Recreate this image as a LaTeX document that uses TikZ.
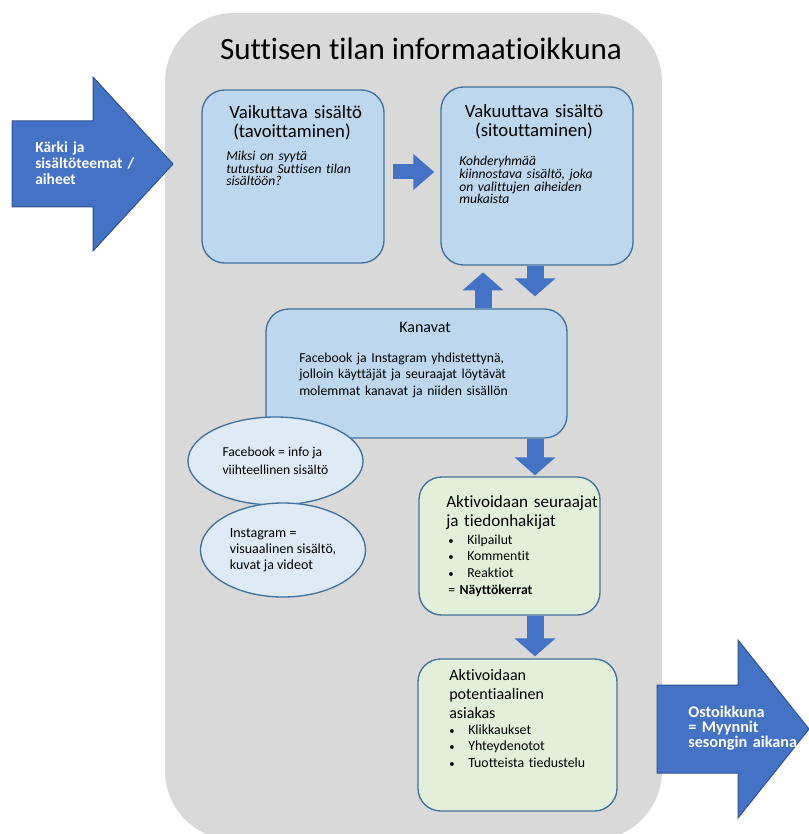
\documentclass[tikz,border=0pt]{standalone}
\usepackage{fontspec}
\setmainfont{Carlito}[Ligatures=NoCommon]
\usetikzlibrary{arrows.meta, shapes.geometric}

\definecolor{bggray}{HTML}{D9D9D9}
\definecolor{boxblue}{HTML}{BDD7EE}
\definecolor{boxline}{HTML}{41719C}
\definecolor{ovalblue}{HTML}{DEEBF7}
\definecolor{boxgreen}{HTML}{E2F0D9}
\definecolor{arrowblue}{HTML}{4472C4}
\definecolor{arrowline}{HTML}{2F528F}

\newcommand{\itembullet}{\makebox[14.25pt][l]{\fontsize{8}{8}\selectfont\textbullet}}

\tikzset{
  roundbox/.style={draw=boxline, line width=1pt, rounded corners=17pt, inner sep=0pt},
  bluebox/.style={roundbox, fill=boxblue},
  greenbox/.style={roundbox, fill=boxgreen},
  ovalnode/.style={ellipse, draw=boxline, line width=1pt, fill=ovalblue,
    inner sep=0pt, align=left},
  flowarrow/.style={draw=arrowblue, line width=12.75pt,
    -{Triangle[width=30pt, length=13.5pt]}},
  sideflow/.style={draw=arrowblue, line width=11.25pt,
    -{Triangle[width=26pt, length=15.75pt]}},
  bigarrow/.style={fill=arrowblue, draw=arrowline, line width=0.75pt},
  boxtext/.style={inner sep=0pt, anchor=base west, align=left, text width=170pt},
  arrowtext/.style={boxtext, text=white, font=\bfseries\fontsize{11.6}{12}\selectfont},
}

\begin{document}
\begin{tikzpicture}[x=0.75pt, y=-0.75pt]
    \coordinate (extr) at (809, 834);
    \useasboundingbox (0, 0) rectangle (extr);

    % Background of the information window
    \fill[bggray, rounded corners=52pt] (165, 13) rectangle (662, 840);
    \node[inner sep=0pt, anchor=base, font=\fontsize{23.3}{28}\selectfont]
      (title) at (421, 60) {Suttisen tilan informaatioikkuna};

    % Arrows coming in and going out
    \draw[bigarrow] (12, 121) -- (93, 121) -- (93, 77) -- (173, 164)
      -- (93, 251) -- (93, 207) -- (12, 207) -- cycle;
    \node[arrowtext] (karki) at (35, 153) {K\"arki ja\\sis\"alt\"oteemat /\\aiheet};
    \draw[bigarrow] (657, 685) -- (738, 685) -- (738, 640) -- (809, 729)
      -- (738, 818) -- (738, 773) -- (657, 773) -- cycle;
    \node[arrowtext, font=\bfseries\fontsize{12.2}{11.6}\selectfont] (osto)
      at (688, 717) {Ostoikkuna\\= Myynnit\\sesongin aikana};

    % Content boxes
    \node[bluebox, minimum width=136.5pt, minimum height=129.75pt] (vaik)
      at (293, 176.5) {};
    \node[boxtext, font=\fontsize{14}{13.9}\selectfont] (vaikhead) at (229, 119)
      {Vaikuttava sis\"alt\"o\\\hspace*{3pt}(tavoittaminen)};
    \node[boxtext, font=\itshape\fontsize{10.2}{9.3}\selectfont] (vaiktxt)
      at (226, 161) {Miksi on syyt\"a\\tutustua Suttisen tilan\\sis\"alt\"o\"on?};

    \node[bluebox, minimum width=144pt, minimum height=133.5pt] (vak)
      at (537, 176) {};
    \node[inner sep=0pt, anchor=base, align=center, text width=150pt,
      font=\fontsize{14}{13.9}\selectfont] (vakhead) at (534, 118)
      {Vakuuttava sis\"alt\"o\\(sitouttaminen)};
    \node[boxtext, font=\itshape\fontsize{10.2}{9.5}\selectfont] (vaktxt)
      at (459, 166)
      {Kohderyhm\"a\"a\\kiinnostava sis\"alt\"o, joka\\on valittujen aiheiden\\mukaista};

    % Channels
    \node[bluebox, minimum width=225.75pt, minimum height=96.75pt] (kan)
      at (416.5, 373.5) {};
    \node[inner sep=0pt, anchor=base, font=\fontsize{12}{14}\selectfont]
      (kanhead) at (425, 332) {Kanavat};
    \node[boxtext, font=\fontsize{10.3}{12.5}\selectfont] (kantxt) at (299, 362)
      {Facebook ja Instagram yhdistettyn\"a,\\jolloin k\"aytt\"aj\"at ja seuraajat l\"oyt\"av\"at\\molemmat kanavat ja niiden sis\"all\"on};

    \node[ovalnode, minimum width=131.25pt, minimum height=66pt,
      font=\fontsize{10.2}{13.5}\selectfont] (fb) at (275.5, 461)
      {Facebook = info ja\\viihteellinen sis\"alt\"o};
    \node[ovalnode, minimum width=123.75pt, minimum height=70.5pt,
      font=\fontsize{10.5}{12}\selectfont] (ig) at (283, 550)
      {Instagram =\\visuaalinen sis\"alt\"o,\\kuvat ja videot};

    % Activation boxes
    \node[greenbox, minimum width=135.75pt, minimum height=103.5pt] (akt1)
      at (509.5, 546) {};
    \node[boxtext, font=\fontsize{12.8}{14.25}\selectfont] (akt1head) at (446, 507)
      {Aktivoidaan seuraajat\\ja tiedonhakijat};
    \node[boxtext, font=\fontsize{10.3}{12.5}\selectfont] (akt1list) at (448, 544)
      {\itembullet Kilpailut\\
       \itembullet Kommentit\\
       \itembullet Reaktiot\\
       = \textbf{N\"aytt\"okerrat}};

    \node[greenbox, minimum width=149.25pt, minimum height=114pt] (akt2)
      at (517.5, 735) {};
    \node[boxtext, font=\fontsize{12}{14.25}\selectfont] (akt2head) at (449, 680)
      {Aktivoidaan\\potentiaalinen\\asiakas};
    \node[boxtext, font=\fontsize{10.4}{12.4}\selectfont] (akt2list) at (449, 734)
      {\itembullet Klikkaukset\\
       \itembullet Yhteydenotot\\
       \itembullet Tuotteista tiedustelu};

    % Flow between the boxes
    \draw[sideflow, shorten <=6pt, shorten >=4.5pt] (vaik.east |- 0,172) -- (vak.west |- 0,172);
    \draw[flowarrow, shorten >=9pt] (vak.south -| 535,0) -- (kan.north -| 535,0);
    \draw[flowarrow, shorten >=5pt] (kan.north -| 483,0) -- (vak.south -| 483,0);
    \draw[flowarrow, shorten >=0.75pt] (kan.south -| 535,0) -- (akt1.north -| 535,0);
    \draw[flowarrow, shorten >=1.5pt] (akt1.south -| 535,0) -- (akt2.north -| 535,0);
\end{tikzpicture}
\end{document}
